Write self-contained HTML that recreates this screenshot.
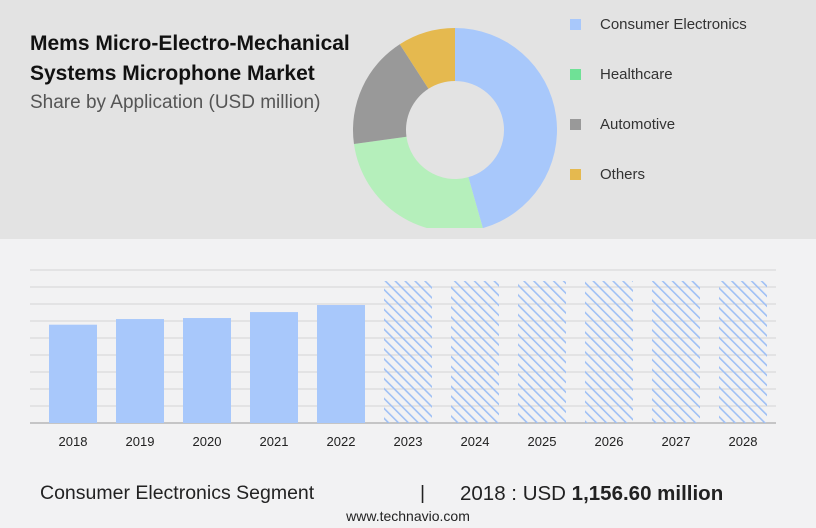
<!DOCTYPE html>
<html><head><meta charset="utf-8"><style>
body{margin:0;width:816px;height:528px;overflow:hidden;font-family:"Liberation Sans",sans-serif;background:#f2f2f3;position:relative}
.top{position:absolute;left:0;top:0;width:816px;height:239px;background:#e3e3e3}
.t{position:absolute;left:30px;top:29px;font-weight:bold;font-size:21px;line-height:30px;color:#111}
.s{position:absolute;left:30px;top:92px;font-size:19px;color:#555}
.lg{position:absolute;left:570px;font-size:15px;color:#333}
.lg i{display:inline-block;width:11px;height:11px;margin-right:19px;vertical-align:-1px}
.ft{position:absolute;top:482px;font-size:19.5px;color:#222}
</style></head><body>
<div class="top"></div>
<div class="t">Mems Micro-Electro-Mechanical<br>Systems Microphone Market</div>
<div class="s">Share by Application (USD million)</div>
<svg id="donut" width="816" height="239" style="position:absolute;left:0;top:0"><defs><clipPath id="cp"><rect x="0" y="0" width="816" height="228"/></clipPath></defs><g id="dg" clip-path="url(#cp)"></g></svg>
<div class="lg" style="top:16px"><i style="background:#a8c8fb"></i>Consumer Electronics</div>
<div class="lg" style="top:66px"><i style="background:#6fe196"></i>Healthcare</div>
<div class="lg" style="top:116px"><i style="background:#999"></i>Automotive</div>
<div class="lg" style="top:166px"><i style="background:#e5b94f"></i>Others</div>
<svg id="bars" width="816" height="460" style="position:absolute;left:0;top:0">
<defs><pattern id="hatch" width="7" height="7" patternUnits="userSpaceOnUse" patternTransform="rotate(-45)"><rect x="3" y="0" width="1.6" height="7" fill="#9fc0f5"/></pattern></defs>
<g id="grid"></g><g id="bg"></g></svg>
<div class="ft" style="left:40px">Consumer Electronics Segment</div>
<div class="ft" style="left:420px">|</div>
<div class="ft" style="left:460px;font-size:20.5px">2018 : USD <b>1,156.60 million</b></div>
<div style="position:absolute;left:0;width:816px;text-align:center;top:508px;font-size:14px;color:#222">www.technavio.com</div>
<script>
const shareLabels=["Consumer Electronics","Healthcare","Automotive","Others"];
const shareValues=[45.6,27.2,18.1,9.1];
const shareColors=["#a8c8fb","#b5efbb","#999999","#e5b94f"];
const years=["2018","2019","2020","2021","2022","2023","2024","2025","2026","2027","2028"];
const values=[1156.6,1223,1235,1305,1388,1670,1670,1670,1670,1670,1670];
const forecast=[false,false,false,false,false,true,true,true,true,true,true];
const NS="http://www.w3.org/2000/svg";
function mk(t,a,p){const e=document.createElementNS(NS,t);for(const k in a)e.setAttribute(k,a[k]);p.appendChild(e);return e;}
const cx=455,cy=130,R=102,r=49,dg=document.getElementById('dg');
let tot=shareValues.reduce((a,b)=>a+b,0),a0=0;
shareValues.forEach((v,i)=>{const a1=a0+v/tot*2*Math.PI;
const P=(rad,a)=>[cx+rad*Math.sin(a),cy-rad*Math.cos(a)];
const [x1,y1]=P(R,a0),[x2,y2]=P(R,a1),[x3,y3]=P(r,a1),[x4,y4]=P(r,a0);const lf=(a1-a0)>Math.PI?1:0;
const p=mk('path',{d:`M${x1},${y1}A${R},${R} 0 ${lf} 1 ${x2},${y2}L${x3},${y3}A${r},${r} 0 ${lf} 0 ${x4},${y4}Z`,fill:shareColors[i]},dg);


a0=a1;});
const base=423,top0=270,maxV=1800,x0=49,step=67,bw=48;
const y=v=>base-v/maxV*(base-top0);
const grid=document.getElementById('grid'),bg=document.getElementById('bg');
for(let k=0;k<9;k++){const gy=top0+k*17;const l=mk('line',{x1:30,x2:776,y1:gy,y2:gy,stroke:'#d4d4d6','stroke-width':1},grid);

}
const ax=mk('line',{x1:30,x2:776,y1:base,y2:base,stroke:'#aaa','stroke-width':1.2},grid);


years.forEach((yr,i)=>{const x=x0+i*step;
const b=mk('rect',{x:x,y:y(values[i]),width:bw,height:base-y(values[i]),fill:forecast[i]?'url(#hatch)':'#a8c8fb'},bg);


const t=mk('text',{x:x+bw/2,y:446,'text-anchor':'middle','font-size':13,fill:'#222'},bg);t.textContent=yr;

});
</script>
</body></html>
